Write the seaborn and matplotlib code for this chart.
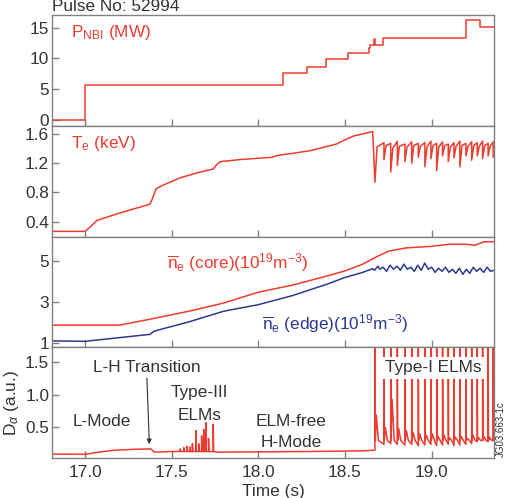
import matplotlib
matplotlib.use("Agg")
import matplotlib.pyplot as plt
import seaborn as sns

# ---- data ----
pnbi_t = [16.81, 17.0, 18.14, 18.28, 18.39, 18.52, 18.64, 18.645, 18.67, 18.675, 18.72, 19.20, 19.28, 19.36]
pnbi_v = [-0.1, 5.7, 7.6, 8.6, 9.9, 10.9, 11.7, 12.2, 13.1, 12.2, 13.3, 16.2, 15.2, 15.2]

te_t = [16.81, 17.0, 17.03, 17.07, 17.2, 17.375, 17.39, 17.41, 17.45, 17.55, 17.65, 17.74,
        17.76, 17.78, 17.9, 18.08, 18.1, 18.3, 18.45, 18.52, 18.55, 18.66]
te_v = [0.27, 0.27, 0.33, 0.42, 0.52, 0.64, 0.72, 0.85, 0.9, 1.0, 1.07, 1.12,
        1.18, 1.22, 1.25, 1.28, 1.3, 1.37, 1.46, 1.54, 1.57, 1.63]

# type-I ELM times and the Te / D-alpha levels around each one
elm_t = [18.673, 18.725, 18.764, 18.802, 18.846, 18.885, 18.923, 18.961, 18.996, 19.029,
         19.063, 19.096, 19.129, 19.163, 19.198, 19.231, 19.263, 19.294, 19.326, 19.355]
te_peak = [1.63, 1.48, 1.47, 1.5, 1.46, 1.49, 1.47, 1.48, 1.5, 1.47,
           1.49, 1.46, 1.48, 1.5, 1.47, 1.49, 1.48, 1.5, 1.47, 1.49]
te_knee = [1.42, 1.44, 1.4, 1.43, 1.42, 1.44, 1.43, 1.42, 1.44, 1.42,
           1.44, 1.42, 1.43, 1.44, 1.43, 1.44, 1.43, 1.44, 1.43, 1.44]
te_trough = [0.94, 1.25, 1.08, 1.17, 1.22, 1.2, 1.28, 1.15, 1.26, 1.1,
             1.3, 1.22, 1.27, 1.15, 1.3, 1.24, 1.3, 1.26, 1.3, 1.28]
da_bump = [0.69, 0.5, 0.93, 0.48, 0.45, 0.42, 0.4, 0.38, 0.4, 0.36,
           0.38, 0.34, 0.35, 0.36, 0.33, 0.38, 0.34, 0.36, 0.35, 0.45]
da_pre = [0.15, 0.24, 0.25, 0.24, 0.23, 0.24, 0.22, 0.23, 0.24, 0.22,
          0.23, 0.24, 0.22, 0.23, 0.24, 0.25, 0.28, 0.3, 0.28, 0.3]

core_t = [16.81, 17.2, 17.375, 17.6, 17.8, 18.0, 18.2, 18.4, 18.5, 18.6, 18.68,
          18.75, 18.85, 19.0, 19.1, 19.2, 19.25, 19.3, 19.36]
core_v = [1.87, 1.87, 2.16, 2.55, 2.95, 3.48, 3.83, 4.28, 4.52, 4.84, 5.2,
          5.48, 5.64, 5.72, 5.82, 5.82, 5.77, 5.94, 5.95]

edge_t = [16.81, 17.0, 17.2, 17.375, 17.4, 17.6, 17.8, 18.0, 18.2, 18.4, 18.5, 18.6, 18.66,
          18.67, 18.69, 18.70, 18.72, 18.74, 18.76, 18.78, 18.80, 18.82, 18.84, 18.86, 18.88,
          18.90, 18.92, 18.94, 18.96, 18.98, 19.00, 19.02, 19.04, 19.06, 19.08, 19.10, 19.12,
          19.14, 19.16, 19.18, 19.20, 19.22, 19.24, 19.26, 19.28, 19.30, 19.32, 19.34, 19.36]
edge_v = [1.1, 1.08, 1.26, 1.42, 1.58, 2.03, 2.55, 2.87, 3.32, 3.88, 4.2, 4.44, 4.63,
          4.55, 4.75, 4.6, 4.7, 4.5, 4.8, 4.6, 4.75, 4.55, 4.85, 4.6, 4.7,
          4.5, 4.8, 4.55, 4.9, 4.6, 4.7, 4.45, 4.65, 4.5, 4.7, 4.45, 4.6,
          4.4, 4.65, 4.35, 4.6, 4.4, 4.7, 4.5, 4.65, 4.45, 4.7, 4.5, 4.55]

da_t = [16.81, 17.0, 17.08, 17.17, 17.3, 17.38, 17.40, 17.5]
da_v = [0.09, 0.087, 0.12, 0.15, 0.165, 0.17, 0.12, 0.13]
type3_t = [17.55, 17.57, 17.59, 17.607, 17.62, 17.64, 17.656, 17.673, 17.685, 17.698, 17.713, 17.74]
type3_h = [0.17, 0.19, 0.21, 0.2, 0.25, 0.45, 0.25, 0.37, 0.47, 0.57, 0.33, 0.55]
free_t = [17.76, 18.0, 18.3, 18.6, 18.665]
free_v = [0.12, 0.125, 0.13, 0.14, 0.15]

red = "#ee3b2e"
blue = "#2b3990"
grey = "#808080"
dark = "#333333"

sns.set_theme(style="ticks")
plt.rcParams["font.family"] = ["Liberation Sans", "DejaVu Sans"]
plt.rcParams["mathtext.fontset"] = "custom"
plt.rcParams["mathtext.rm"] = "Liberation Sans"
plt.rcParams["mathtext.it"] = "Liberation Sans:italic"
plt.rcParams["axes.unicode_minus"] = True

# assemble traces with ELM structure (sharp crash, fast recovery, slow flat top)
te_x, te_y = list(te_t), list(te_v)
te_x.append(elm_t[0]); te_y.append(te_trough[0])
for i in range(1, len(elm_t)):
    te_x += [elm_t[i - 1] + 0.012, elm_t[i], elm_t[i]]
    te_y += [te_knee[i - 1], te_peak[i], te_trough[i]]

da_x, da_y = list(da_t), list(da_v)
for t, h in zip(type3_t, type3_h):
    da_x += [t, t, t + 0.002]
    da_y += [0.13, h, 0.13]
da_x += free_t
da_y += free_v
for i, t in enumerate(elm_t):
    da_x += [t, t, t + 0.002, t + 0.008, t + 0.02]
    da_y += [da_pre[i], 2.0, 0.3, da_bump[i], 0.3]
da_x.append(19.36); da_y.append(0.3)

fig, axes = plt.subplots(4, 1, figsize=(5.07, 4.98), dpi=100, sharex=True)
fig.subplots_adjust(left=0.1026, right=0.9744, top=0.9699, bottom=0.0803, hspace=0)

lkw = dict(estimator=None, sort=False, linewidth=1.1)
sns.lineplot(x=pnbi_t, y=pnbi_v, ax=axes[0], color=red, drawstyle="steps-post", **lkw)
sns.lineplot(x=te_x, y=te_y, ax=axes[1], color=red, **lkw)
sns.lineplot(x=core_t, y=core_v, ax=axes[2], color=red, **lkw)
sns.lineplot(x=edge_t, y=edge_v, ax=axes[2], color=blue, **lkw)
sns.lineplot(x=da_x, y=da_y, ax=axes[3], color=red, **lkw)

fs = 12.4
ylims = [(-1, 17.1), (0.2, 1.71), (0.79, 6.2), (0.03, 1.73)]
yticks = [[0, 5, 10, 15], [0.4, 0.8, 1.2, 1.6], [1, 3, 5], [0.5, 1.0, 1.5]]
ylabs = [["0", "5", "10", "15"], ["0.4", "0.8", "1.2", "1.6"], ["1", "3", "5"], ["0.5", "1.0", "1.5"]]
for ax, yl, yt, lab in zip(axes, ylims, yticks, ylabs):
    ax.set_xlim(16.81, 19.36)
    ax.set_ylim(*yl)
    ax.set_yticks(yt)
    ax.set_yticklabels(lab)
    ax.set_ylabel("")
    for s in ax.spines.values():
        s.set_visible(True)
        s.set_color(grey)
        s.set_linewidth(1.0)
    ax.tick_params(direction="in", length=5, width=1, color=grey, labelcolor=dark,
                   labelsize=fs, pad=2)

axes[3].tick_params(axis="x", pad=5)
axes[3].set_xticks([17.0, 17.5, 18.0, 18.5, 19.0])
axes[3].set_xticklabels(["17.0", "17.5", "18.0", "18.5", "19.0"])
axes[3].set_xlabel("Time (s)", fontsize=fs, color=dark, labelpad=3)
axes[3].set_ylabel(r"D$_\alpha$ (a.u.)", fontsize=fs, color=dark, labelpad=3)

axes[0].text(16.92, 13.5, r"P$_\mathrm{NBI}$ (MW)", color=red, fontsize=fs)
axes[1].text(16.92, 1.40, r"T$_\mathrm{e}$ (keV)", color=red, fontsize=fs)
axes[2].text(17.473, 4.63, r"$\overline{\mathrm{n}}_\mathrm{e}$ (core)(10$^{19}$m$^{-3}$)",
             color=red, fontsize=fs)
axes[2].text(18.02, 1.68, r"$\overline{\mathrm{n}}_\mathrm{e}$ (edge)(10$^{19}$m$^{-3}$)",
             color=blue, fontsize=fs)

ax4 = axes[3]
tkw = dict(color=dark, fontsize=fs, ha="center", va="center")
ax4.text(17.096, 0.597, "L-Mode", **tkw)
ax4.text(17.356, 1.415, "L-H Transition", **tkw)
ax4.text(17.66, 1.03, "Type-III", **tkw)
ax4.text(17.66, 0.687, "ELMs", **tkw)
ax4.text(18.19, 0.597, "ELM-free", **tkw)
ax4.text(18.19, 0.262, "H-Mode", **tkw)
ax4.text(19.009, 1.415, "Type-I ELMs", zorder=5,
         bbox=dict(facecolor="white", edgecolor="none", pad=2.5), **tkw)
ax4.annotate("", xy=(17.372, 0.2), xytext=(17.357, 1.3),
             arrowprops=dict(arrowstyle="-|>", color=dark, lw=0.8, mutation_scale=7))

fig.text(52 / 507, 1 - 11 / 498, "Pulse No: 52994", fontsize=fs, color=dark, va="baseline")
fig.text(501 / 507, 1 - 429 / 498, "JG03.663-1c", fontsize=7, color=dark,
         rotation=90, ha="center", va="center")

fig.savefig("out.png", dpi=100)
